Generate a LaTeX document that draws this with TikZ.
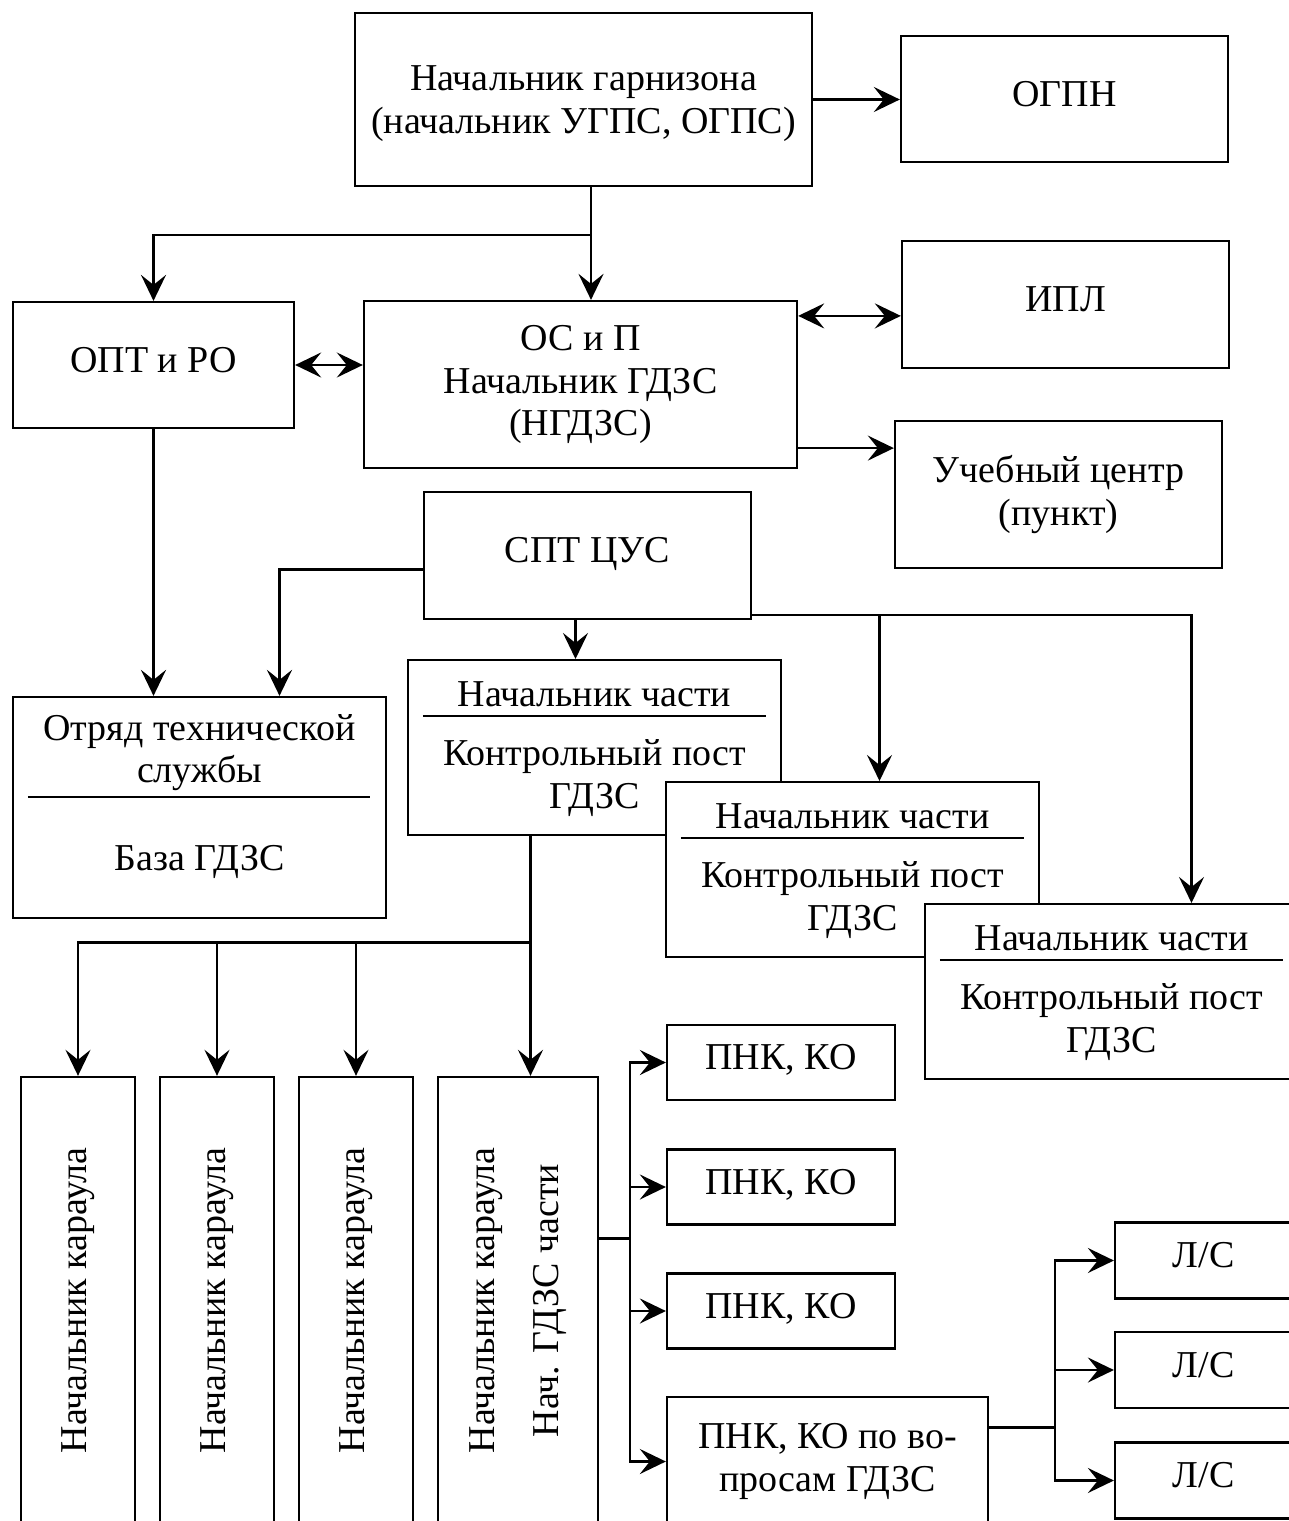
\documentclass[tikz,border=0pt]{standalone}
\usepackage{fontspec}
\setmainfont{Liberation Serif}
\usetikzlibrary{arrows.meta,calc}

\tikzset{
    blok/.style={draw, line width=0.6pt, fill=white, inner sep=0pt, align=center},
    odin/.style={text depth=3pt},
    svyaz/.style={line width=0.75pt},
}

\newcommand*{\chast}[3]{%
    \node[blok, minimum width=3.73cm, minimum height=1.75cm, anchor=north] (#1) at (#2,#3) {};
    \node (#1a) at ($(#1.north)+(0,35)$) {Начальник части};
    \draw[svyaz] ($(#1.north west)+(16,57)$) -- ($(#1.north east)+(-16,57)$);
    \node[align=center] (#1b) at ($(#1.north)+(0,119)$) {Контрольный пост\\ГДЗС};
}

\begin{document}
\begin{tikzpicture}[x=0.01cm, y=-0.01cm, font=\fontsize{10.8}{12.1}\selectfont,
    >={Stealth[length=2.6mm,width=2.5mm,inset=1mm]}]
    \useasboundingbox (0,0) rectangle (1289,1521);
    \clip (0,0) rectangle (1289,1521);
    \node[blok, text depth=0pt, minimum width=4.57cm, minimum height=1.73cm] (garn) at (583.5,99.5) {Начальник гарнизона\\(начальник УГПС, ОГПС)};
    \node[blok, odin, minimum width=3.27cm, minimum height=1.26cm] (ogpn) at (1064.5,99) {ОГПН};
    \node[blok, odin, minimum width=3.27cm, minimum height=1.27cm] (ipl) at (1065.5,304.5) {ИПЛ};
    \node[blok, odin, minimum width=2.81cm, minimum height=1.26cm] (opt) at (153.5,365) {ОПТ и РО};
    \node[blok, minimum width=4.33cm, minimum height=1.67cm] (osp) at (580.5,384.5) {ОС и П\\Начальник ГДЗС\\(НГДЗС)};
    \node[blok, minimum width=3.27cm, minimum height=1.47cm] (uc) at (1058.5,494.5) {Учебный центр\\(пункт)};
    \node[blok, odin, minimum width=3.27cm, minimum height=1.27cm] (spt) at (587.5,555.5) {СПТ ЦУС};
    \node[blok, minimum width=3.73cm, minimum height=2.21cm] (otr) at (199.5,807.5) {};
    \node[align=center] (otra) at ($(otr.north)+(0,56.5)$) {Отряд технической\\службы};
    \draw[svyaz] ($(otr.north west)+(16,101)$) -- ($(otr.north east)+(-17,101)$);
    \node (otrb) at ($(otr.north)+(0,166)$) {База ГДЗС};
    \chast{ch1}{594.5}{659}
    \chast{ch2}{852.5}{781}
    \chast{ch3}{1111.5}{903}
    % караулы
    \foreach \n/\x in {nk1/78, nk2/217, nk3/356}{
        \node[blok, minimum width=1.14cm, minimum height=4.47cm] (\n) at (\x,1300.5) {};
        \node[rotate=90] (t\n) at (\n) {Начальник караула};
    }
    \node[blok, minimum width=1.6cm, minimum height=4.47cm] (nk4) at (518,1300.5) {};
    \node[rotate=90, align=center] (tnk4) at (nk4) {Начальник караула\\[6pt]Нач. ГДЗС части};
    \foreach \n/\y in {pnk1/1062.5, pnk2/1187, pnk3/1311}
        \node[blok, odin, minimum width=2.28cm, minimum height=0.75cm] (\n) at (781,\y) {ПНК, КО};
    \node[blok, minimum width=3.21cm, minimum height=1.29cm] (pnk4) at (827.5,1461.5) {ПНК, КО по во-\\просам ГДЗС};
    \foreach \n/\y in {ls1/1260.5, ls2/1370, ls3/1480.5}
        \node[blok, odin, minimum width=1.77cm, minimum height=0.76cm] (\n) at (1203.5,\y) {Л/С};
    % связи
    \draw[svyaz,->] (garn.east) -- (garn.east -| ogpn.west);
    \coordinate (v1) at ($(garn.south)+(7.5,48)$);
    \draw[svyaz,->] (garn.south -| v1) -- (osp.north -| v1);
    \draw[svyaz,->] (v1) -| (opt.north);
    \draw[svyaz,<->] (opt.east) -- (opt.east -| osp.west);
    \coordinate (p1) at ($(osp.north east)+(0,16)$);
    \draw[svyaz,<->] (p1) -- (p1 -| ipl.west);
    \coordinate (p2) at ($(osp.south east)+(0,-21)$);
    \draw[svyaz,->] (p2) -- (p2 -| uc.west);
    \draw[svyaz,->] (opt.south) -- (opt.south |- otr.north);
    \coordinate (p3) at ($(spt.west)+(0,14)$);
    \draw[svyaz,->] (p3) -| ($(otr.north)+(80,0)$);
    \coordinate (p4) at ($(spt.south)+(-12,0)$);
    \draw[svyaz,->] (p4) -- (p4 |- ch1.north);
    \coordinate (p5) at ($(spt.south east)+(0,-5)$);
    \draw[svyaz,->] (p5) -| ($(ch3.north)+(80,0)$);
    \draw[svyaz,->] ($(p5 -| ch2.north)+(27,0)$) -- ($(ch2.north)+(27,0)$);
    \coordinate (p6) at ($(ch1.south)+(-64,0)$);
    \draw[svyaz,->] (p6) -- (p6 |- nk4.north);
    \coordinate (p7) at ($(p6)+(0,106)$);
    \foreach \n in {nk1,nk2,nk3}
        \draw[svyaz,->] (p7) -| (\n.north);
    \coordinate (p8) at ($(nk4.east)+(0,-62)$);
    \coordinate (p9) at ($(p8)+(31,0)$);
    \draw[svyaz] (p8) -- (p9);
    \foreach \n in {pnk1,pnk2,pnk3,pnk4}
        \draw[svyaz,->] (p9) |- (\n.west);
    \coordinate (p10) at ($(pnk4.east)+(0,-34)$);
    \coordinate (p11) at ($(p10)+(66,0)$);
    \draw[svyaz] (p10) -- (p11);
    \foreach \n in {ls1,ls2,ls3}
        \draw[svyaz,->] (p11) |- (\n.west);
\end{tikzpicture}
\end{document}
